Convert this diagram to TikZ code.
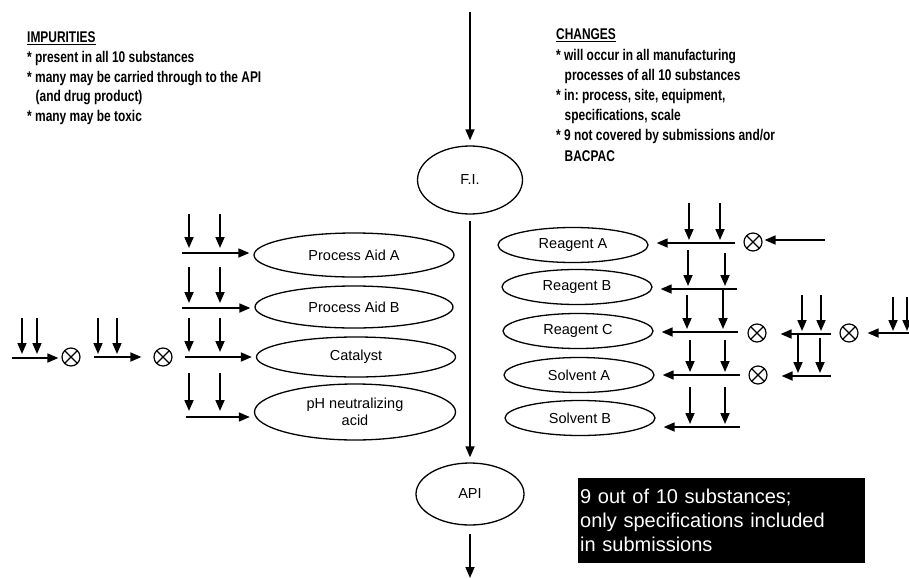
\documentclass[tikz,border=0pt]{standalone}
\usepackage{fontspec}
\setmainfont{Liberation Sans}
\newfontfamily\hdrfont{Liberation Sans}[FakeStretch=0.77]
\usetikzlibrary{arrows.meta,shapes.geometric}
\frenchspacing
\begin{document}
\begin{tikzpicture}[x=1pt,y=-1pt,
  arr/.style={-{Triangle[length=11pt,width=9pt]}, line width=1.7pt},
  ell/.style={ellipse, draw, line width=1.3pt, inner sep=0pt, align=center,
              font=\fontsize{14.5}{17}\selectfont},
  ox/.style={circle, draw, line width=1.2pt, minimum size=18pt, inner sep=0pt,
    path picture={\draw[line width=1.2pt]
      (path picture bounding box.north west) -- (path picture bounding box.south east)
      (path picture bounding box.north east) -- (path picture bounding box.south west);}},
  hdr/.style={anchor=base west, align=left, inner sep=0pt,
              font=\hdrfont\bfseries\fontsize{15.5}{19.5}\selectfont},
]
\useasboundingbox (0,0) rectangle (909,578);

% ---------- texts (anchor = baseline of the last line)
\node[hdr] (imp) at (27,121) {\underline{IMPURITIES}\\
* present in all 10 substances\\
* many may be carried through to the API\\
\hspace*{0.55em}(and drug product)\\
* many may be toxic};
\node[hdr, font=\hdrfont\bfseries\fontsize{15.5}{20.2}\selectfont] (chg) at (556,161) {\underline{CHANGES}\\
* will occur in all manufacturing\\
\hspace*{0.55em}processes of all 10 substances\\
* in: process, site, equipment,\\
\hspace*{0.55em}specifications, scale\\
* 9 not covered by submissions and/or\\
\hspace*{0.55em}BACPAC};

\node[anchor=north west, fill=black, text=white, inner xsep=2pt, inner ysep=0pt,
      text width=283pt, minimum height=85pt, align=left,
      font=\fontsize{20}{24}\selectfont] (box) at (578,478)
  {9 out of 10 substances;\\only specifications included\\in submissions};

% ---------- main column
\node[ell, minimum width=105pt, minimum height=68pt] (fi) at (470,180) {F.I.};
\node[ell, minimum width=108pt, minimum height=62pt] (api) at (470,494) {API};
\coordinate (top) at (470,12);
\coordinate (bot) at (470,578);
\draw[arr, shorten >=5pt] (top) -- (fi.north);
\draw[arr, shorten <=6pt, shorten >=5pt] (fi.south) -- (api.north);
\draw[arr, shorten <=8pt] (api.south) -- (bot);

% ---------- left ellipses
\node[ell, minimum width=200pt, minimum height=44pt] (pa) at (354,255) {Process Aid A};
\node[ell, minimum width=198pt, minimum height=42pt] (pb) at (354,307) {Process Aid B};
\node[ell, minimum width=199pt, minimum height=40pt] (ca) at (356,357) {Catalyst};
\node[ell, minimum width=201pt, minimum height=56pt] (ph) at (355,412) {pH neutralizing\\acid};

\foreach \n/\h/\t/\b/\xs in {pa/253/214/248/182, pb/308/267/303/182,
                             ca/357/318/352/185, ph/417/373/411/186}{
  \coordinate (L\n) at (\xs,\h);
  \draw[arr, shorten >=4pt] (L\n) -- (L\n -| \n.west);
  \coordinate (L\n a) at (189,\t); \coordinate (L\n b) at (189,\b);
  \coordinate (L\n c) at (220,\t); \coordinate (L\n d) at (220,\b);
  \draw[arr] (L\n a) -- (L\n b);
  \draw[arr] (L\n c) -- (L\n d);
}

% ---------- far left
\node[ox] (xa) at (71,357) {};
\node[ox] (xb) at (163,357) {};
\coordinate (fl1) at (12,358);
\draw[arr, shorten >=3pt] (fl1) -- (fl1 -| xa.west);
\coordinate (fl2) at (94,357);
\draw[arr, shorten >=12pt] (fl2) -- (xb.west);
\foreach \x/\s in {22/1, 37/2, 98/3, 117/4}{
  \coordinate (fv\s a) at (\x,318); \coordinate (fv\s b) at (\x,354);
  \draw[arr] (fv\s a) -- (fv\s b);
}

% ---------- right ellipses
\node[ell, minimum width=150pt, minimum height=35pt] (ra) at (573,245) {Reagent A};
\node[ell, minimum width=150pt, minimum height=35pt] (rb) at (577,287) {Reagent B};
\node[ell, minimum width=150pt, minimum height=35pt] (rc) at (578,331) {Reagent C};
\node[ell, minimum width=150pt, minimum height=35pt] (sa) at (579,375) {Solvent A};
\node[ell, minimum width=150pt, minimum height=35pt] (sb) at (580,418) {Solvent B};

\foreach \n/\h/\xs/\xa/\ta/\xb/\tb/\b in {ra/243/735/689/203/720/203/240,
    rb/289/737/688/250/725/253/286, rc/332/738/687/295/723/289/329,
    sa/375/740/690/340/725/340/372, sb/427/740/690/387/725/387/424}{
  \coordinate (R\n) at (\xs,\h);
  \draw[arr, shorten >=8pt] (R\n) -- (R\n -| \n.east);
  \coordinate (R\n a) at (\xa,\ta); \coordinate (R\n b) at (\xa,\b);
  \coordinate (R\n c) at (\xb,\tb); \coordinate (R\n d) at (\xb,\b);
  \draw[arr] (R\n a) -- (R\n b);
  \draw[arr] (R\n c) -- (R\n d);
}

\node[ox] (x1) at (753,242) {};
\node[ox] (x2) at (757,333) {};
\node[ox] (x3) at (758,375) {};
\node[ox] (x4) at (849,333) {};

\coordinate (r1) at (825,240);
\draw[arr, shorten >=2pt] (r1) -- (r1 -| x1.east);

% right complex
\coordinate (rc1) at (831,334);
\draw[arr, shorten >=14pt] (rc1) -- (rc1 -| x2.east);
\coordinate (rc2) at (831,376);
\draw[arr, shorten >=14pt] (rc2) -- (rc2 -| x3.east);
\foreach \x/\t/\b/\s in {802/295/331/1, 821/295/331/2, 798/334/373/3, 820/338/373/4,
                         893/297/331/5, 907/297/331/6}{
  \coordinate (rv\s a) at (\x,\t); \coordinate (rv\s b) at (\x,\b);
  \draw[arr] (rv\s a) -- (rv\s b);
}
\coordinate (edge) at (909,333);
\draw[arr, shorten >=9pt] (edge) -- (x4.east);
\end{tikzpicture}
\end{document}
